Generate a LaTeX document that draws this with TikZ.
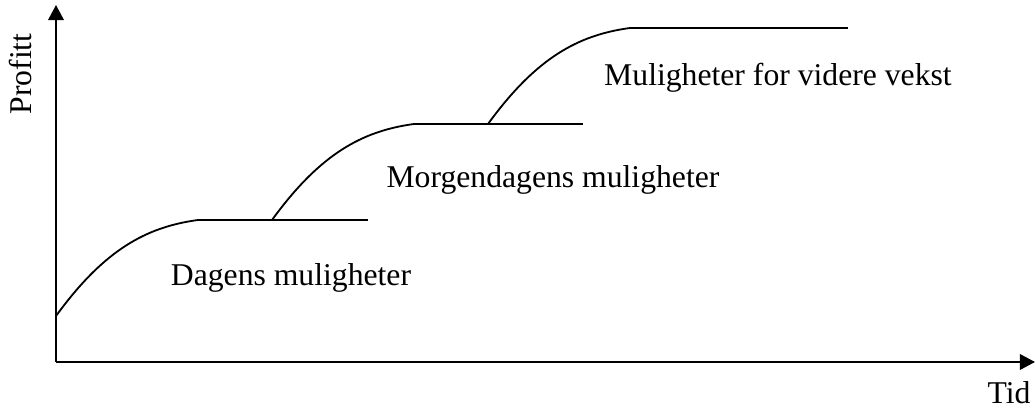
\documentclass[tikz,border=0pt]{standalone}
\usepackage{fontspec}
\setmainfont{Liberation Serif}
\usetikzlibrary{arrows.meta}

\begin{document}
\begin{tikzpicture}[
  x=0.01353cm,
  y=0.01353cm,
  every node/.style={font=\fontsize{12.2}{14}\selectfont, inner sep=0pt},
  axis/.style={black, line width=0.7pt, -{Triangle[length=5.8pt, width=6pt]}},
  curve/.style={black, line width=0.7pt},
  label/.style={anchor=base}
]
  % ---- frame of the page -----------------------------------------------
  \useasboundingbox (-56,-46) rectangle (979,362);

  % ---- axes ------------------------------------------------------------
  \coordinate (O) at (0,0);
  \coordinate (ytop) at (0,357);
  \coordinate (xend) at (979,0);
  \draw[axis] (O) -- (ytop);
  \draw[axis] (O) -- (xend);
  \node[label, rotate=90] (ylab) at (-24,288) {Profitt};
  \node[label] (xlab) at (953,-42) {Tid};

  % ---- the three growth steps ------------------------------------------
  % each step rises by (142,96) and then runs flat to its own end
  \foreach \sx/\sy/\ex in {0/46/312, 216/142/527, 432/238/792}
    \draw[curve] (\sx,\sy)
      .. controls ++(48,66) and ++(-52,-7) .. ++(142,96) -- (\ex,\sy+96);

  % ---- step labels -----------------------------------------------------
  \node[label] (today) at (235,77) {Dagens muligheter};
  \node[label] (tomorrow) at (497,175) {Morgendagens muligheter};
  \node[label] (further) at (722,276) {Muligheter for videre vekst};
\end{tikzpicture}
\end{document}
